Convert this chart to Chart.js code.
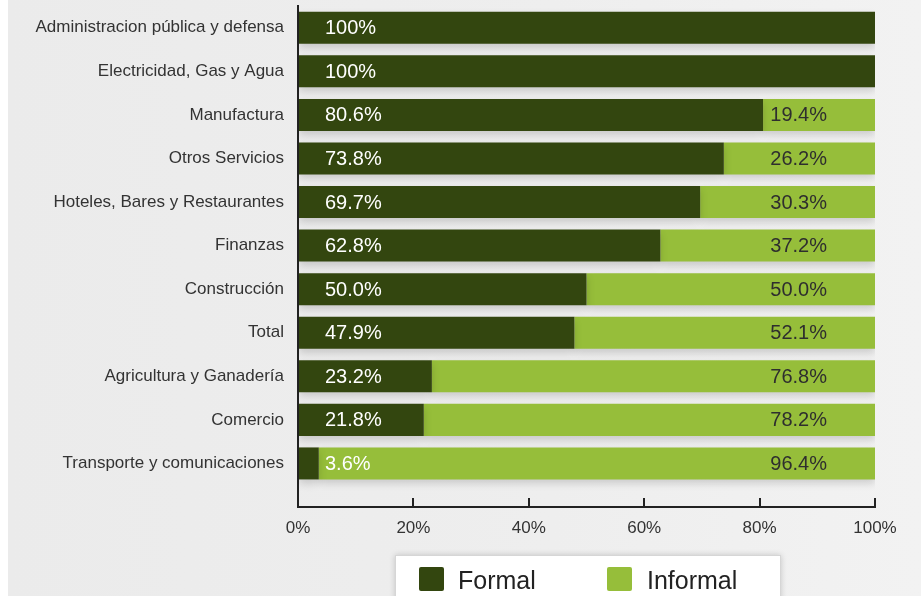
<!DOCTYPE html>
<html>
<head>
<meta charset="utf-8">
<script src="https://cdn.jsdelivr.net/npm/chart.js@4.4.1/dist/chart.umd.min.js"></script>
<style>
  html, body { margin: 0; padding: 0; }
  body {
    width: 921px; height: 596px; overflow: hidden; position: relative;
    background: linear-gradient(to right, #ffffff 0px, #ffffff 8px, #ebebeb 8px, #eeeeee 60%, #f2f2f2 100%);
    font-family: "Liberation Sans", Arial, sans-serif;
  }
  #wrap { position: absolute; left: 0; top: 0; width: 921px; height: 596px; }
  #legend {
    position: absolute; left: 395px; top: 555px; width: 384px; height: 60px;
    background: #ffffff; border: 1px solid #d6d6d6; box-shadow: 0 0 6px rgba(0,0,0,0.18);
  }
  .lg-box { position: absolute; top: 11px; width: 25px; height: 24px; border-radius: 2px; }
  .lg-txt { position: absolute; top: 12px; font-size: 25px; line-height: 24px; color: #222; white-space: nowrap; }
</style>
</head>
<body>
<div id="wrap"><canvas id="c" width="921" height="596"></canvas></div>
<div id="legend"></div>
<script>
// ---- data ----
const categories = [
  "Administracion pública y defensa",
  "Electricidad, Gas y Agua",
  "Manufactura",
  "Otros Servicios",
  "Hoteles, Bares y Restaurantes",
  "Finanzas",
  "Construcción",
  "Total",
  "Agricultura y Ganadería",
  "Comercio",
  "Transporte y comunicaciones"
];
const formal   = [100, 100, 80.6, 73.8, 69.7, 62.8, 50.0, 47.9, 23.2, 21.8, 3.6];
const informal = [0, 0, 19.4, 26.2, 30.3, 37.2, 50.0, 52.1, 76.8, 78.2, 96.4];
const seriesNames = ["Formal", "Informal"];
const seriesColors = ["#33460f", "#96be3a"];
const xTickValues = [0, 20, 40, 60, 80, 100];

const FONT = "'Liberation Sans', Arial, sans-serif";

function fmt(v) { return v === 100 ? "100%" : v.toFixed(1) + "%"; }

const shadowPlugin = {
  id: 'barShadow',
  beforeDatasetsDraw(chart) {
    const ctx = chart.ctx;
    ctx.save();
    ctx.shadowColor = 'rgba(0,0,0,0.16)';
    ctx.shadowBlur = 8;
    ctx.shadowOffsetX = 0;
    ctx.shadowOffsetY = 4;
  },
  afterDatasetsDraw(chart) { chart.ctx.restore(); }
};

const labelPlugin = {
  id: 'valueLabels',
  afterDatasetsDraw(chart) {
    const ctx = chart.ctx;
    ctx.save();
    ctx.font = "20px " + FONT;
    ctx.textBaseline = 'middle';
    chart.data.datasets.forEach((ds, di) => {
      const meta = chart.getDatasetMeta(di);
      meta.data.forEach((el, i) => {
        const vals = di === 0 ? formal : informal;
        const v = vals[i];
        if (!v) return;
        const p = el.getProps(['x', 'y', 'base'], true);
        if (di === 0) {
          ctx.fillStyle = '#ffffff';
          ctx.textAlign = 'left';
          ctx.fillText(fmt(v), Math.min(p.x, p.base) + 26, p.y + 1);
        } else {
          ctx.fillStyle = '#2e2e2e';
          ctx.textAlign = 'right';
          ctx.fillText(fmt(v), Math.max(p.x, p.base) - 48, p.y + 1);
        }
      });
    });
    ctx.restore();
  }
};

const idx = categories.map((_, i) => i);

new Chart(document.getElementById('c'), {
  type: 'bar',
  data: {
    labels: idx,
    datasets: [
      {
        label: seriesNames[0],
        data: formal.map((v, i) => ({ x: [0, v], y: i })),
        backgroundColor: seriesColors[0],
        grouped: false,
        barPercentage: 0.735,
        categoryPercentage: 1
      },
      {
        label: seriesNames[1],
        data: informal.map((v, i) => ({ x: [formal[i], formal[i] + v], y: i })),
        backgroundColor: seriesColors[1],
        grouped: false,
        barPercentage: 0.735,
        categoryPercentage: 1
      }
    ]
  },
  options: {
    indexAxis: 'y',
    responsive: false,
    animation: false,
    devicePixelRatio: 1,
    layout: { padding: { top: 6, right: 46, bottom: 0, left: 0 } },
    plugins: { legend: { display: false }, tooltip: { enabled: false } },
    scales: {
      y: {
        type: 'linear',
        reverse: true,
        offset: false,
        min: -0.5,
        max: 11,
        afterBuildTicks: s => { s.ticks = idx.map(i => ({ value: i })); },
        afterFit: s => { s.width = 298; s.paddingTop = 0; s.paddingBottom = 0; },
        grid: { display: false, drawTicks: false },
        border: { display: true, color: '#222222', width: 2 },
        ticks: {
          padding: 14,
          color: '#333333',
          font: { family: FONT, size: 17 },
          autoSkip: false,
          callback: v => categories[v] ?? ''
        }
      },
      x: {
        type: 'linear',
        min: 0,
        max: 100,
        offset: false,
        afterBuildTicks: s => { s.ticks = xTickValues.map(v => ({ value: v })); },
        afterFit: s => { s.height = 89; },
        grid: { display: true, drawOnChartArea: false, drawTicks: true, tickLength: -9, color: '#222222', lineWidth: 2 },
        border: { display: true, color: '#222222', width: 2 },
        ticks: {
          padding: 20,
          color: '#333333',
          font: { family: FONT, size: 17 },
          callback: v => v + '%'
        }
      }
    }
  },
  plugins: [shadowPlugin, labelPlugin]
});

// legend built from series names/colours
const lg = document.getElementById('legend');
const boxX = [23, 211];
const txtX = [62, 251];
seriesNames.forEach((n, i) => {
  const b = document.createElement('div');
  b.className = 'lg-box';
  b.style.left = boxX[i] + 'px';
  b.style.background = seriesColors[i];
  lg.appendChild(b);
  const t = document.createElement('div');
  t.className = 'lg-txt';
  t.style.left = txtX[i] + 'px';
  t.textContent = n;
  lg.appendChild(t);
});
</script>
</body>
</html>
